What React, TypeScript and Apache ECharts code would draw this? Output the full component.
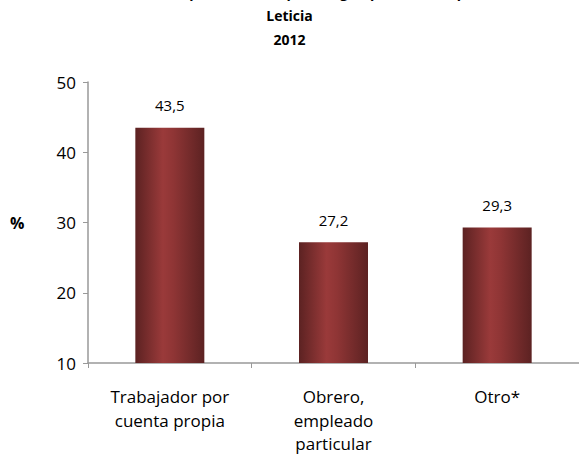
import React, { useEffect, useRef } from "react";
import * as echarts from "echarts";

const categories = ["Trabajador por\ncuenta propia", "Obrero,\nempleado\nparticular", "Otro*"];
const values = [43.5, 27.2, 29.3];
const yTicks = { min: 10, max: 50, interval: 10 };
const titleLines = ["Distribución de la población ocupada según posición ocupacional", "Leticia", "2012"];

const FONT = "'Open Sans', 'DejaVu Sans', sans-serif";

export default function App() {
  const ref = useRef<HTMLDivElement>(null);
  useEffect(() => {
    document.body.style.margin = "0";
    const chart = echarts.init(ref.current!, null, { renderer: "svg" });
    const barColor = new echarts.graphic.LinearGradient(0, 0, 1, 0, [
      { offset: 0, color: "#5c2222" },
      { offset: 0.4, color: "#9a3a3a" },
      { offset: 0.55, color: "#8f3535" },
      { offset: 1, color: "#5c2222" },
    ]);
    chart.setOption({
      animation: false,
      backgroundColor: "#ffffff",
      textStyle: { fontFamily: FONT },
      grid: { left: 88, right: -11, top: 82, bottom: 103, containLabel: false },
      graphic: [
        {
          type: "text",
          left: "center",
          top: -15,
          style: { text: titleLines[0], font: `bold 14px ${FONT}`, fill: "#000" },
        },
        {
          type: "text",
          left: "center",
          top: 8,
          style: { text: titleLines[1], font: `bold 14px ${FONT}`, fill: "#000" },
        },
        {
          type: "text",
          left: "center",
          top: 32,
          style: { text: titleLines[2], font: `bold 14px ${FONT}`, fill: "#000" },
        },
        {
          type: "text",
          left: 10,
          top: 215,
          style: { text: "%", font: `bold 16px ${FONT}`, fill: "#000" },
        },
      ],
      xAxis: {
        type: "category",
        data: categories,
        boundaryGap: true,
        axisLine: { lineStyle: { color: "#999999", width: 1.5 } },
        axisTick: { show: true, length: 5, alignWithLabel: false, lineStyle: { color: "#999999" } },
        axisLabel: {
          color: "#000",
          fontSize: 17,
          lineHeight: 23.5,
          margin: 22,
          fontFamily: FONT,
          interval: 0,
        },
      },
      yAxis: {
        type: "value",
        min: yTicks.min,
        max: yTicks.max,
        interval: yTicks.interval,
        splitLine: { show: false },
        axisLine: { show: true, lineStyle: { color: "#999999", width: 1.5 } },
        axisTick: { show: true, length: 5, lineStyle: { color: "#999999" } },
        axisLabel: { color: "#000", fontSize: 17, margin: 12, fontFamily: FONT },
      },
      series: [
        {
          type: "bar",
          data: values,
          barWidth: 69,
          itemStyle: { color: barColor },
          label: {
            show: true,
            position: "top",
            distance: 15,
            color: "#000",
            fontSize: 15,
            fontFamily: FONT,
            formatter: (p: any) => String(p.value).replace(".", ","),
          },
        },
      ],
    });
    return () => chart.dispose();
  }, []);
  return <div ref={ref} style={{ position: "absolute", left: 0, top: 0, width: 579, height: 466 }} />;
}
